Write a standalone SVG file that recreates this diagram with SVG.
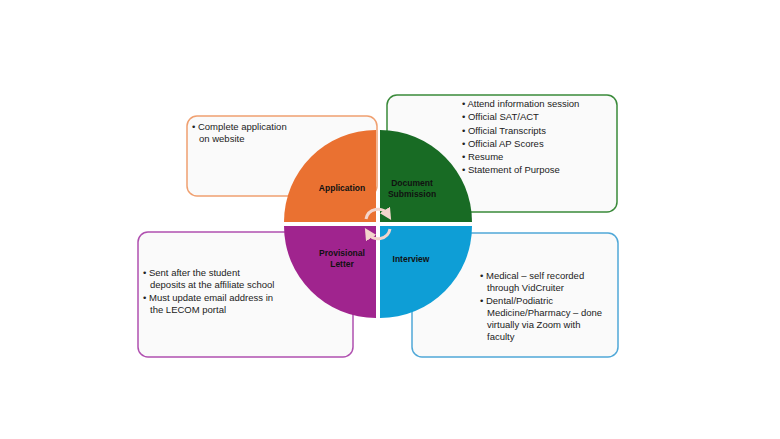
<svg xmlns="http://www.w3.org/2000/svg" width="780" height="439" viewBox="0 0 780 439">
<style>
.box{fill:#fafafa;stroke-width:1.5}
.t{font-family:"Liberation Sans",Arial,sans-serif;font-size:9.5px;fill:#222}
.l{font-family:"Liberation Sans",Arial,sans-serif;font-size:8.5px;font-weight:bold;fill:#111;text-anchor:middle}
</style>
<defs><marker id="ah" viewBox="0 0 10 10" refX="5" refY="5" markerWidth="4" markerHeight="4" orient="auto"><path d="M0,0L10,5L0,10z" fill="#f3d5cc"/></marker></defs>
<rect width="780" height="439" fill="#fff"/>
<g id="box-application"><rect class="box" x="187" y="116" width="190" height="80" rx="10" stroke="#f0a070"/>
<text class="t" x="192" y="130">• Complete application</text><text class="t" x="199" y="142">on website</text></g>
<g id="box-document"><rect class="box" x="387" y="95" width="230" height="117" rx="10" stroke="#3a8a3a"/>
<text class="t" x="462" y="107">• Attend information session</text>
<text class="t" x="462" y="120">• Official SAT/ACT</text>
<text class="t" x="462" y="134">• Official Transcripts</text>
<text class="t" x="462" y="147">• Official AP Scores</text>
<text class="t" x="462" y="160">• Resume</text>
<text class="t" x="462" y="173">• Statement of Purpose</text></g>
<g id="box-provisional"><rect class="box" x="138" y="232" width="215" height="125" rx="10" stroke="#b050b0"/>
<text class="t" x="143" y="276">• Sent after the student</text>
<text class="t" x="150" y="288">deposits at the affiliate school</text>
<text class="t" x="143" y="301">• Must update email address in</text>
<text class="t" x="150" y="313">the LECOM portal</text></g>
<g id="box-interview"><rect class="box" x="412" y="233" width="206" height="124" rx="10" stroke="#50a8d8"/>
<text class="t" x="480" y="279">• Medical – self recorded</text>
<text class="t" x="487" y="291">through VidCruiter</text>
<text class="t" x="480" y="304">• Dental/Podiatric</text>
<text class="t" x="487" y="316">Medicine/Pharmacy – done</text>
<text class="t" x="487" y="328">virtually via Zoom with</text>
<text class="t" x="487" y="340">faculty</text></g>
<g id="node-application"><path d="M376,222 L284,222 A92,92 0 0 1 376,130 Z" fill="#ea7131"/><text class="l" x="342" y="191">Application</text></g>
<g id="node-document"><path d="M380,222 L380,130 A92,92 0 0 1 472,222 Z" fill="#186b24"/><text class="l" x="412" y="186">Document</text><text class="l" x="412" y="197">Submission</text></g>
<g id="node-interview"><path d="M380,226 L472,226 A92,92 0 0 1 380,318 Z" fill="#0e9ed6"/><text class="l" x="411" y="262">Interview</text></g>
<g id="node-provisional"><path d="M376,226 L376,318 A92,92 0 0 1 284,226 Z" fill="#a0248e"/><text class="l" x="342" y="256">Provisional</text><text class="l" x="342" y="267">Letter</text></g>
<g id="connectors" fill="none" stroke="#f3d5cc" stroke-width="3">
<path d="M366,219 A12,12 0 0 1 388,215" marker-end="url(#ah)"/>
<path d="M390,229 A12,12 0 0 1 368,233" marker-end="url(#ah)"/>
</g>
</svg>
